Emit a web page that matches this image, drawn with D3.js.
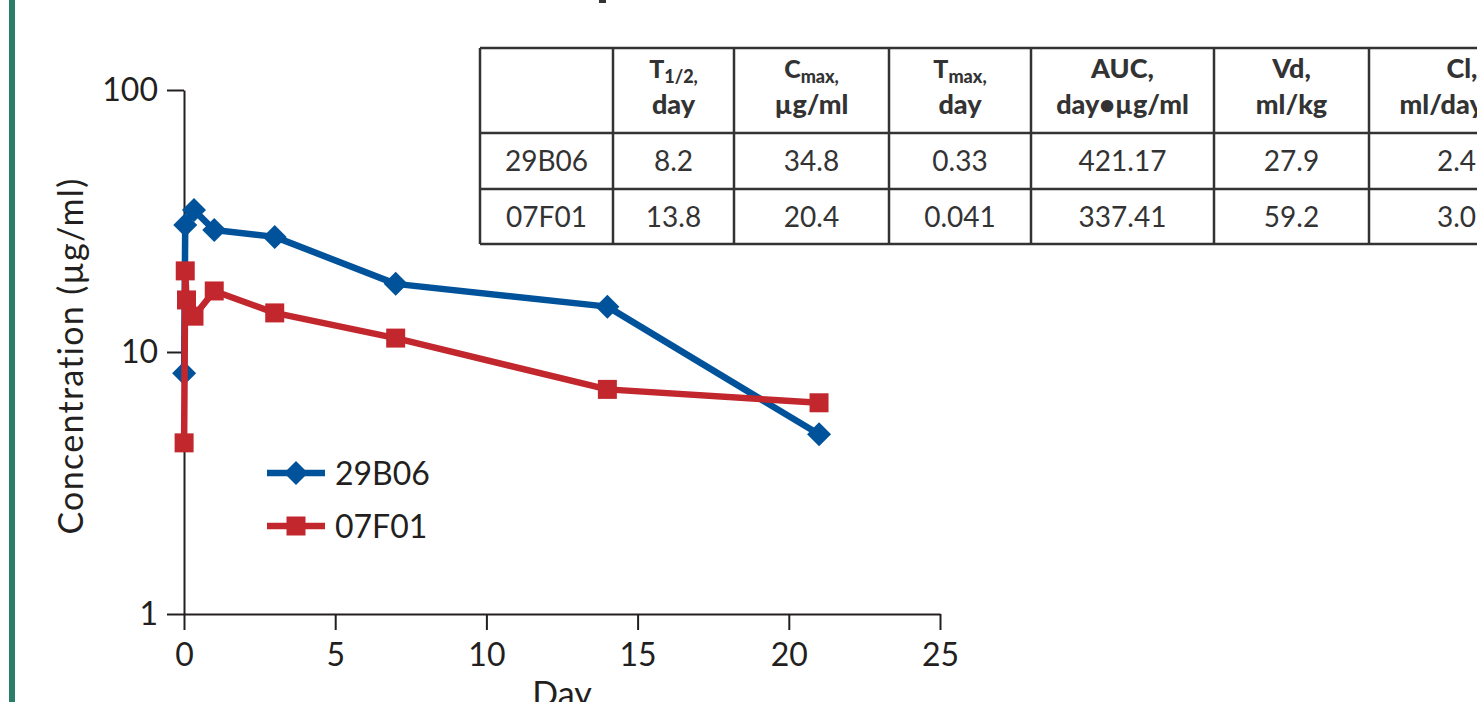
<!DOCTYPE html>
<html>
<head>
<meta charset="utf-8">
<script src="https://cdn.jsdelivr.net/npm/d3@7"></script>
<style>
  html, body { margin: 0; padding: 0; background: #fff; overflow: hidden; }
  svg { display: block; font-family: Lato, "Open Sans", sans-serif; }
</style>
</head>
<body>
<div id="chart"></div>
<script>
// Concentration-time data (day, µg/ml)
const days29B06 = [0.0035, 0.041, 0.33, 1, 3, 7, 14, 21];
const conc29B06 = [8.3, 30.5, 34.8, 29.2, 27.5, 18.2, 14.9, 4.85];
const days07F01 = [0.0035, 0.041, 0.083, 0.33, 1, 3, 7, 14, 21];
const conc07F01 = [4.5, 20.4, 15.8, 13.7, 17.1, 14.1, 11.3, 7.2, 6.4];

const seriesNames = ['29B06', '07F01'];
const seriesColors = ['#00529b', '#c1272d'];

const xTicks = [0, 5, 10, 15, 20, 25];
const yTicks = [1, 10, 100];

// PK parameter table
const tableRows = ['29B06', '07F01'];
const halfLife = ['8.2', '13.8'];
const cmax = ['34.8', '20.4'];
const tmax = ['0.33', '0.041'];
const auc = ['421.17', '337.41'];
const vd = ['27.9', '59.2'];
const clearance = ['2.4', '3.0'];

const width = 1477, height = 702;

const svg = d3.select('#chart').append('svg')
  .attr('width', width)
  .attr('height', height);

// green side bar
svg.append('rect')
  .attr('x', 9).attr('y', 0)
  .attr('width', 6).attr('height', height)
  .attr('fill', '#2b7d69');

// fragment of text cut off at the top edge
svg.append('rect')
  .attr('x', 599).attr('y', 0)
  .attr('width', 7).attr('height', 3)
  .attr('fill', '#333');

// Scales
const x = d3.scaleLinear().domain([0, 25]).range([184, 940]);
const y = d3.scaleLog().domain([1, 100]).range([614, 90]);

const axisColor = '#231f20';

// Y axis
const yAxis = svg.append('g')
  .attr('transform', `translate(${x(0)},0)`)
  .call(d3.axisLeft(y)
    .tickValues(yTicks)
    .tickFormat(d3.format('d'))
    .tickSize(17)
    .tickSizeOuter(0)
    .tickPadding(9));

// X axis
const xAxis = svg.append('g')
  .attr('transform', `translate(0,${y(1)})`)
  .call(d3.axisBottom(x)
    .tickValues(xTicks)
    .tickSize(16)
    .tickSizeOuter(0)
    .tickPadding(13));

[xAxis, yAxis].forEach(g => {
  g.select('.domain').attr('stroke', axisColor).attr('stroke-width', 2);
  g.selectAll('.tick line').attr('stroke', axisColor).attr('stroke-width', 2);
  g.selectAll('.tick text')
    .attr('fill', axisColor)
    .style('font-size', '32px')
    .style('font-family', 'Lato, sans-serif');
});

// Axis labels
svg.append('text')
  .attr('transform', `translate(83,${(y(1) + y(100)) / 2 + 4}) rotate(-90)`)
  .attr('text-anchor', 'middle')
  .attr('fill', axisColor)
  .style('font-size', '34px')
  .style('letter-spacing', '1.3px')
  .text('Concentration (µg/ml)');

svg.append('text')
  .attr('x', x(12.5))
  .attr('y', 706)
  .attr('text-anchor', 'middle')
  .attr('fill', axisColor)
  .style('font-size', '34px')
  .text('Day');

// Series
const series = [
  { name: seriesNames[0], color: seriesColors[0], days: days29B06, conc: conc29B06, shape: 'diamond' },
  { name: seriesNames[1], color: seriesColors[1], days: days07F01, conc: conc07F01, shape: 'square' }
];

const diamondPath = 'M0,-12L12,0L0,12L-12,0Z';
const squarePath = 'M-9.5,-9.5H9.5V9.5H-9.5Z';

const line = d3.line()
  .x(d => x(d[0]))
  .y(d => y(d[1]));

series.forEach(s => {
  const pts = s.days.map((d, i) => [d, s.conc[i]]);
  const g = svg.append('g').attr('class', 'series');
  g.append('path')
    .datum(pts)
    .attr('d', line)
    .attr('fill', 'none')
    .attr('stroke', s.color)
    .attr('stroke-width', 6.5)
    .attr('stroke-linejoin', 'round');
  g.selectAll('path.marker')
    .data(pts)
    .enter()
    .append('path')
    .attr('class', 'marker')
    .attr('transform', d => `translate(${x(d[0])},${y(d[1])})`)
    .attr('d', s.shape === 'diamond' ? diamondPath : squarePath)
    .attr('fill', s.color);
});

// Legend
const legend = svg.append('g').attr('transform', 'translate(267,473)');
series.forEach((s, i) => {
  const row = legend.append('g').attr('transform', `translate(0,${i * 53})`);
  row.append('line')
    .attr('x1', 0).attr('x2', 58)
    .attr('stroke', s.color)
    .attr('stroke-width', 6.5);
  row.append('path')
    .attr('transform', 'translate(29,0)')
    .attr('d', s.shape === 'diamond' ? diamondPath : squarePath)
    .attr('fill', s.color);
  row.append('text')
    .attr('x', 68)
    .attr('y', 12)
    .attr('fill', axisColor)
    .style('font-size', '32px')
    .text(s.name);
});

// Table
const colEdges = [480, 613, 734, 889, 1031, 1214, 1369, 1555];
const rowEdges = [48, 133, 189, 244];
const tableColor = '#333';

const headerCells = [
  [],
  [[{ t: 'T', s: 25 }, { t: '1/2,', s: 18, sub: true }], [{ t: 'day', s: 27 }]],
  [[{ t: 'C', s: 25 }, { t: 'max,', s: 18, sub: true }], [{ t: 'µg/ml', s: 27 }]],
  [[{ t: 'T', s: 25 }, { t: 'max,', s: 18, sub: true }], [{ t: 'day', s: 27 }]],
  [[{ t: 'AUC,', s: 27 }], [{ t: 'day•µg/ml', s: 27 }]],
  [[{ t: 'Vd,', s: 27 }], [{ t: 'ml/kg', s: 27 }]],
  [[{ t: 'Cl,', s: 27 }], [{ t: 'ml/day/kg', s: 27 }]]
];

const table = svg.append('g').attr('class', 'pk-table');

// grid lines
rowEdges.forEach(ry => {
  table.append('line')
    .attr('x1', colEdges[0]).attr('x2', colEdges[colEdges.length - 1])
    .attr('y1', ry).attr('y2', ry)
    .attr('stroke', tableColor).attr('stroke-width', 2.5);
});
colEdges.forEach(cx => {
  table.append('line')
    .attr('x1', cx).attr('x2', cx)
    .attr('y1', rowEdges[0]).attr('y2', rowEdges[rowEdges.length - 1])
    .attr('stroke', tableColor).attr('stroke-width', 2.5);
});

const colCenter = i => (colEdges[i] + colEdges[i + 1]) / 2;

// header
headerCells.forEach((lines, ci) => {
  lines.forEach((parts, li) => {
    const txt = table.append('text')
      .attr('x', colCenter(ci))
      .attr('y', li === 0 ? 78 : 114)
      .attr('text-anchor', 'middle')
      .attr('fill', tableColor)
      .style('font-weight', 900);
    parts.forEach(p => {
      txt.append('tspan')
        .attr('dy', p.sub ? 5 : null)
        .style('font-size', p.s + 'px')
        .text(p.t);
    });
  });
});

// body
const columns = [tableRows, halfLife, cmax, tmax, auc, vd, clearance];
tableRows.forEach((r, ri) => {
  const baseY = (rowEdges[ri + 1] + rowEdges[ri + 2]) / 2 + 10;
  columns.forEach((col, ci) => {
    const last = ci === columns.length - 1;
    table.append('text')
      .attr('x', last ? colEdges[ci] + 68 : colCenter(ci))
      .attr('y', baseY)
      .attr('text-anchor', last ? 'start' : 'middle')
      .attr('fill', tableColor)
      .style('font-size', '28px')
      .text(col[ri]);
  });
});
</script>
</body>
</html>
